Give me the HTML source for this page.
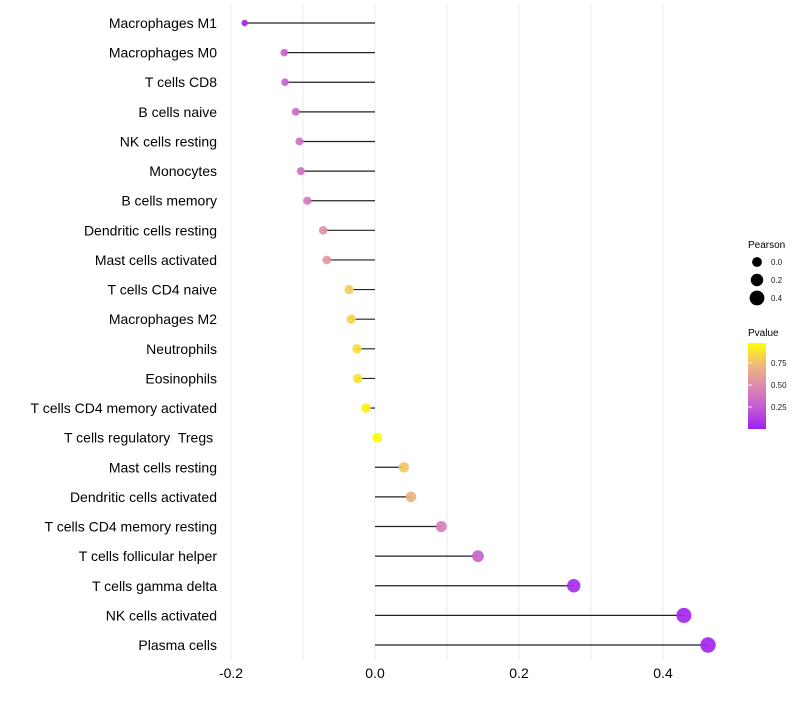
<!DOCTYPE html>
<html><head><meta charset="utf-8"><style>
body{margin:0;background:#fff;}
svg text{font-family:"Liberation Sans",sans-serif;white-space:pre;}
</style></head><body>
<svg id="chart" width="800" height="700">
<g id="grid"></g>
<g id="segs"></g>
<g id="pts"></g>
<g id="ylab"></g>
<g id="xlab"></g>
<g>
<text x="748" y="248" font-size="10">Pearson</text>
<g id="sizeleg"></g>
</g>
<g>
<text x="748" y="336" font-size="10">Pvalue</text>
<defs><linearGradient id="pg" x1="0" y1="1" x2="0" y2="0">
<stop offset="0" stop-color="#a020f0"/><stop offset="0.25" stop-color="#c35bd6"/><stop offset="0.5" stop-color="#dc8aaf"/><stop offset="0.75" stop-color="#efb97a"/><stop offset="1" stop-color="#ffff00"/></linearGradient></defs>
<rect x="748" y="343" width="18" height="86" fill="url(#pg)"/>
<g id="colleg"></g>
</g>
</svg>
<script>
const categories=["Macrophages M1","Macrophages M0","T cells CD8","B cells naive","NK cells resting","Monocytes","B cells memory","Dendritic cells resting","Mast cells activated","T cells CD4 naive","Macrophages M2","Neutrophils","Eosinophils","T cells CD4 memory activated","T cells regulatory  Tregs ","Mast cells resting","Dendritic cells activated","T cells CD4 memory resting","T cells follicular helper","T cells gamma delta","NK cells activated","Plasma cells"];
const pearson=[-0.181,-0.126,-0.125,-0.110,-0.105,-0.103,-0.094,-0.072,-0.067,-0.036,-0.033,-0.025,-0.024,-0.0125,0.003,0.040,0.050,0.092,0.143,0.276,0.429,0.4625];
const pvalue=[0.03,0.3,0.3,0.35,0.37,0.38,0.42,0.55,0.58,0.82,0.85,0.88,0.9,0.95,0.99,0.8,0.72,0.45,0.3,0.05,0.03,0.02];
const xTicks=[-0.2,0.0,0.2,0.4];
const xTickLabels=["-0.2","0.0","0.2","0.4"];
const minorTicks=[-0.1,0.1,0.3];
const sizeLegVals=[0.0,0.2,0.4];
const sizeLegLabels=["0.0","0.2","0.4"];
const colLegVals=[0.25,0.5,0.75];
const colLegLabels=["0.25","0.50","0.75"];
const NS="http://www.w3.org/2000/svg";
const x=v=>375+v*720;
const y=i=>23+i*(622/21);
const r=v=>Math.sqrt(Math.max(2.5,24+76*v));
const stops=[[0,[160,32,240]],[0.25,[195,91,214]],[0.5,[220,138,175]],[0.75,[239,185,122]],[1,[255,255,0]]];
function col(p){for(let k=1;k<stops.length;k++){if(p<=stops[k][0]){const a=stops[k-1],b=stops[k],t=(p-a[0])/(b[0]-a[0]);return "rgb("+a[1].map((c,j)=>Math.round(c+(b[1][j]-c)*t)).join(",")+")";}}return "rgb(255,255,0)";}
function mk(tag,attrs,parent){const e=document.createElementNS(NS,tag);for(const k in attrs)e.setAttribute(k,attrs[k]);document.getElementById(parent).appendChild(e);return e;}
minorTicks.concat(xTicks).forEach(v=>{const l=mk("line",{x1:x(v),x2:x(v),y1:5,y2:660,stroke:"#ebebeb","stroke-width":1},"grid");

});
xTicks.forEach((v,i)=>{const t=mk("text",{x:x(v),y:678,"font-size":14,"text-anchor":"middle",fill:"#000"},"xlab");t.textContent=xTickLabels[i];

});
categories.forEach((c,i)=>{
const t=mk("text",{x:217,y:y(i)+5,"font-size":14,"text-anchor":"end",fill:"#000"},"ylab");t.textContent=c;


const s=mk("line",{x1:x(0),x2:x(pearson[i]),y1:y(i),y2:y(i),stroke:"#222","stroke-width":1.2},"segs");


const p=mk("circle",{cx:x(pearson[i]),cy:y(i),r:r(pearson[i]),fill:col(pvalue[i]),"fill-opacity":0.92},"pts");


});
sizeLegVals.forEach((v,i)=>{const cy=262+i*18;
const c=mk("circle",{cx:757,cy:cy,r:r(v),fill:"#000"},"sizeleg");


const t=mk("text",{x:771,y:cy+3,"font-size":8,fill:"#1a1a1a"},"sizeleg");t.textContent=sizeLegLabels[i];

});
colLegVals.forEach((v,i)=>{const cy=429-v*88;
const l=mk("line",{x1:748,x2:752,y1:cy,y2:cy,stroke:"#fff","stroke-width":0.8},"colleg");


const t=mk("text",{x:771,y:cy+3,"font-size":8,fill:"#1a1a1a"},"colleg");t.textContent=colLegLabels[i];

});
</script>
</body></html>
